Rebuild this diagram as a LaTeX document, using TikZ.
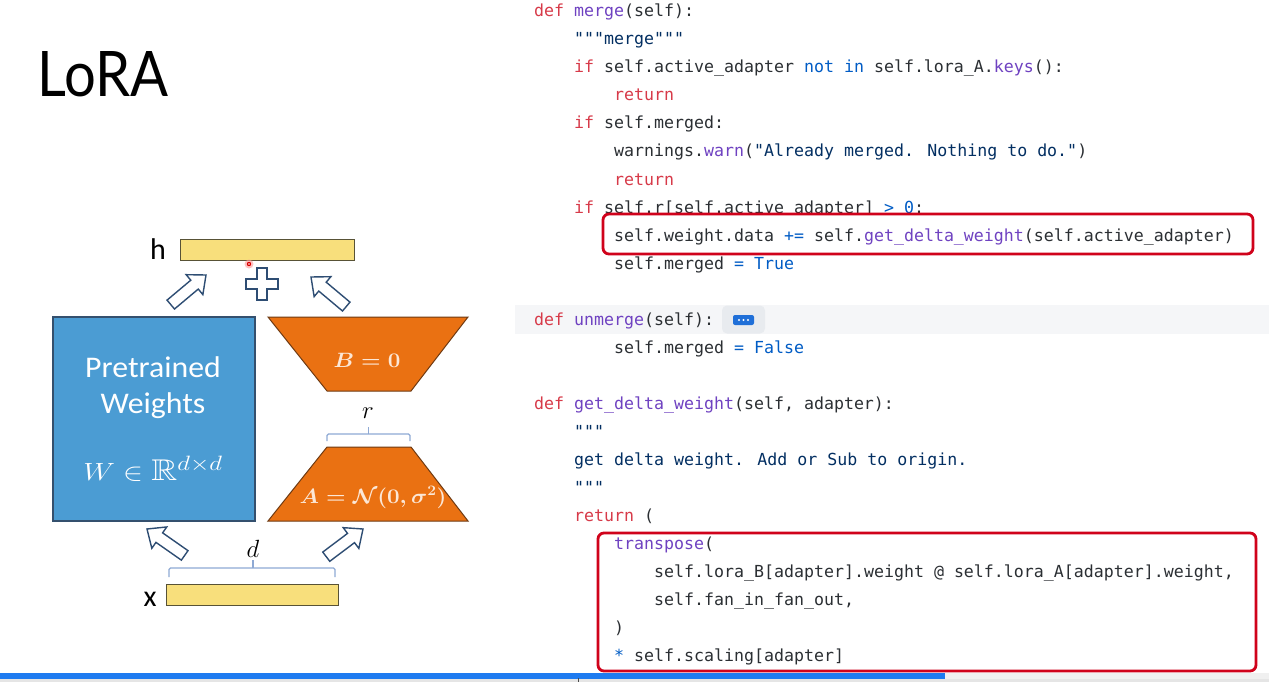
\documentclass[tikz,border=0pt]{standalone}
\usepackage{fontspec}
\usepackage{amssymb}
\usepackage{graphicx}
\newfontfamily\codefont{DejaVu Sans Mono}
\newfontfamily\calfont{Carlito}
\newfontfamily\lorafont{Lato}
\definecolor{ckwc}{HTML}{D73A49}
\definecolor{cfnc}{HTML}{6F42C1}
\definecolor{cstc}{HTML}{032F62}
\definecolor{cblc}{HTML}{005CC5}
\definecolor{cplain}{HTML}{2B2F33}
\definecolor{boxred}{HTML}{D0021B}
\definecolor{wblue}{HTML}{4B9CD3}
\definecolor{wblueb}{HTML}{34506E}
\definecolor{lorange}{HTML}{EA7112}
\definecolor{lorangeb}{HTML}{6E3A12}
\definecolor{lyellow}{HTML}{F8DF7C}
\definecolor{lyellowb}{HTML}{585236}
\definecolor{arrowc}{HTML}{2E4D73}
\definecolor{bracec}{HTML}{8EA9D4}
\definecolor{cream}{HTML}{FCE7D6}
\definecolor{bandgray}{HTML}{F5F6F8}
\definecolor{chipgray}{HTML}{E8EBEF}
\definecolor{chipblue}{HTML}{1F6FD8}
\definecolor{barblue}{HTML}{1E7BF0}
\newcommand\ckw[1]{\textcolor{ckwc}{#1}}
\newcommand\cfn[1]{\textcolor{cfnc}{#1}}
\newcommand\cst[1]{\textcolor{cstc}{#1}}
\newcommand\cbl[1]{\textcolor{cblc}{#1}}
\newcommand\blockarrow[3]{%
  \draw[blockarrowstyle, shift={(#1,#2)}, rotate=#3]
    (0,0) -- (-15,13) -- (-15,5.8) -- (-46,5.8) -- (-46,-5.8) -- (-15,-5.8) -- (-15,-13) -- cycle;}
\begin{document}
\begin{tikzpicture}[x=1pt,y=-1pt,
  codeline/.style={anchor=base west, inner sep=0pt, text=cplain,
    font=\codefont\fontsize{16.6}{20}\selectfont},
  redbox/.style={draw=boxred, line width=2.8pt, rounded corners=6pt, fill=white},
  blockarrowstyle/.style={draw=arrowc, line width=1.4pt, fill=white, line join=miter},
  bracestyle/.style={draw=bracec, line width=1.3pt, rounded corners=1.5pt},
  vecbar/.style={draw=lyellowb, fill=lyellow, line width=1pt},
  trap/.style={draw=lorangeb, fill=lorange, line width=1pt},
  lbl/.style={inner sep=0pt, font=\calfont\fontsize{30}{34}\selectfont},
  mathlbl/.style={inner sep=0pt, font=\fontsize{24}{28}\selectfont},
]
\useasboundingbox (0,0) rectangle (1269,682);
\fill[white] (0,0) rectangle (1269,682);

% ---------- title
\node[anchor=base west, inner sep=0pt] (title) at (37,97)
  {\resizebox{131pt}{45pt}{\lorafont LoRA}};

% ---------- diagram
\node[vecbar, minimum width=174pt, minimum height=21pt, inner sep=0pt] (hbar) at (267,249.5) {};
\node[lbl, anchor=base] (hlbl) at (158,259) {h};

% plus sign
\draw[blockarrowstyle] (257,268) -- (267,268) -- (267,279) -- (278,279) -- (278,289) -- (267,289)
  -- (267,300) -- (257,300) -- (257,289) -- (246,289) -- (246,279) -- (257,279) -- cycle;
\coordinate (pluscenter) at (262,284);

% cursor dot
\fill[red!40, opacity=0.6] (249,264) circle (4.5pt);
\fill[red!85!black] (249,264) circle (2.2pt);
\fill[white] (249,264) circle (0.9pt);

\blockarrow{206}{275}{40}
\blockarrow{311}{277}{140}
\blockarrow{147}{529}{145}
\blockarrow{363}{529}{37}

% pretrained weights
\node[draw=wblueb, fill=wblue, line width=1.2pt, minimum width=202pt, minimum height=204pt,
  inner sep=0pt] (W) at (154,419) {};
\node[lbl, anchor=base, text=white] (pt1) at (153,377) {\scalebox{1.06}[1]{Pretrained}};
\node[lbl, anchor=base, text=white] (pt2) at (153,413) {\scalebox{1.06}[1]{Weights}};
\node[inner sep=0pt, anchor=base, text=white, font=\fontsize{30}{34}\selectfont] (pt3) at (153,480)
  {\scalebox{1.2}[1]{$W\in\mathbb{R}^{d\times d}$}};

% B trapezoid
\draw[trap] (268,317) -- (468,317) -- (411,391) -- (327,391) -- cycle;
\node[inner sep=0pt, anchor=base, text=cream, font=\fontsize{22}{26}\selectfont] (Blbl) at (367,367)
  {\scalebox{1.08}[1]{\boldmath$B=0$}};

% r brace
\draw[bracestyle] (327,441) -- (327,434) -- (410,434) -- (410,441);
\draw[bracestyle] (368.5,434) -- (368.5,427);
\node[mathlbl, anchor=base] (rlbl) at (368,418) {$r$};

% A trapezoid
\draw[trap] (327,447) -- (411,447) -- (468,521) -- (268,521) -- cycle;
\node[inner sep=0pt, anchor=base, text=cream, font=\fontsize{21}{25}\selectfont] (Albl) at (373,503)
  {\scalebox{1.08}[1]{\boldmath$A=\mathcal{N}(0,\sigma^2)$}};

% d brace
\draw[bracestyle] (169,577) -- (169,568) -- (335,568) -- (335,577);
\draw[bracestyle] (253,568) -- (253,560);
\node[mathlbl, anchor=base] (dlbl) at (253,557) {$d$};

\node[vecbar, minimum width=172pt, minimum height=21pt, inner sep=0pt] (xbar) at (252,594.5) {};
\node[lbl, anchor=base] (xlbl) at (150,606) {x};

% ---------- code
\fill[bandgray] (515,305) rectangle (1269,334);
\node[fill=chipgray, rounded corners=5pt, minimum width=43pt, minimum height=28pt, inner sep=0pt] (chipbg) at (743.5,319.5) {};
\node[fill=chipblue, rounded corners=2pt, minimum width=21pt, minimum height=10pt, inner sep=0pt] (chip) at (743.5,320) {};
\foreach \dx in {-4.5,0,4.5} \fill[white] ([xshift=\dx pt]chip.center) circle (1.1pt);

\node[codeline] (c0) at (534,17) {\ckw{def} \cfn{merge}(self):};
\node[codeline] (c1) at (574,45) {\cst{"""merge"""}};
\node[codeline] (c2) at (574,73) {\ckw{if} self.active\_adapter \cbl{not in} self.lora\_A.\cfn{keys}():};
\node[codeline] (c3) at (614,101) {\ckw{return}};
\node[codeline] (c4) at (574,129) {\ckw{if} self.merged:};
\node[codeline] (c5) at (614,157) {warnings.\cfn{warn}(\cst{"Already merged. Nothing to do."})};
\node[codeline] (c6) at (614,185) {\ckw{return}};
\node[codeline] (c7) at (574,213) {\ckw{if} self.r[self.active\_adapter] \cbl{>} \cbl{0}:};
\draw[redbox] (603,214) rectangle (1253,254);
\node[codeline] (c8) at (614,241) {self.weight.data \cbl{+=} self.\cfn{get\_delta\_weight}(self.active\_adapter)};
\node[codeline] (c9) at (614,269) {self.merged \cbl{=} \cbl{True}};
\node[codeline] (c11) at (534,325) {\ckw{def} \cfn{unmerge}(self):};
\node[codeline] (c12) at (614,353) {self.merged \cbl{=} \cbl{False}};
\node[codeline] (c14) at (534,409) {\ckw{def} \cfn{get\_delta\_weight}(self, adapter):};
\node[codeline] (c15) at (574,437) {\cst{"""}};
\node[codeline] (c16) at (574,465) {\cst{get delta weight. Add or Sub to origin.}};
\node[codeline] (c17) at (574,493) {\cst{"""}};
\node[codeline] (c18) at (574,521) {\ckw{return} (};
\draw[redbox] (598,533) rectangle (1256,671);
\node[codeline] (c19) at (614,549) {\cfn{transpose}(};
\node[codeline] (c20) at (654,577) {self.lora\_B[adapter].weight @ self.lora\_A[adapter].weight,};
\node[codeline] (c21) at (654,605) {self.fan\_in\_fan\_out,};
\node[codeline] (c22) at (614,633) {)};
\node[codeline] (c23) at (614,661) {\cbl{*} self.scaling[adapter]};

% ---------- progress bar
\fill[gray!20] (0,679) rectangle (1269,682);
\fill[gray!12] (945,673) rectangle (1269,679);
\fill[barblue] (0,673) rectangle (945,679);
\draw[black!70, line width=0.8pt] (578,678) -- (578,682);
\end{tikzpicture}
\end{document}
